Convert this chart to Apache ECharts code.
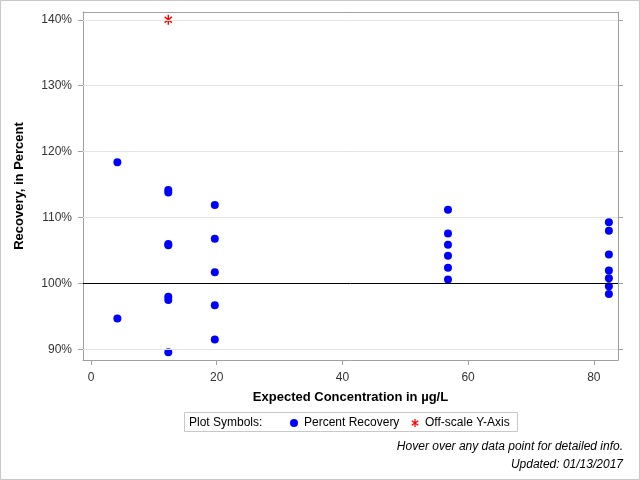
<!DOCTYPE html>
<html>
<head>
<meta charset="utf-8">
<script src="https://cdn.jsdelivr.net/npm/echarts@6/dist/echarts.min.js"></script>
<style>
html,body{margin:0;padding:0;background:#fff}
#wrap{position:relative;width:640px;height:480px}
#c{width:640px;height:480px}
#frame{position:absolute;left:0;top:0;width:640px;height:480px;box-sizing:border-box;border:1px solid #c8c8c8;pointer-events:none}
</style>
</head>
<body>
<div id="wrap"><div id="c"></div><div id="frame"></div></div>
<script>
// ---- data ----
var recoveryX = [4.2, 4.2,
  12.3, 12.3, 12.3, 12.3, 12.3, 12.3, 12.3,
  19.7, 19.7, 19.7, 19.7, 19.7,
  56.8, 56.8, 56.8, 56.8, 56.8, 56.8,
  82.4, 82.4, 82.4, 82.4, 82.4, 82.4, 82.4];
var recoveryY = [118.4, 94.7,
  114.2, 113.8, 106.0, 105.8, 98.0, 97.5, 89.6,
  111.9, 106.8, 101.7, 96.7, 91.5,
  111.2, 107.6, 105.9, 104.2, 102.4, 100.6,
  109.3, 108.0, 104.4, 102.0, 100.8, 99.6, 98.4];
var offscaleX = [12.3];
var offscaleY = [140];
var xTicks = [0, 20, 40, 60, 80];
var yTicks = [90, 100, 110, 120, 130, 140];
var referenceLevel = 100;

// ---- build ----
function asteriskPath() {
  var angles = [90, 35, -35], L = 5, w = 0.8, parts = [];
  angles.forEach(function (a) {
    var r = a * Math.PI / 180, dx = Math.cos(r), dy = -Math.sin(r), px = -dy, py = dx;
    var pts = [
      [L * dx + w * px, L * dy + w * py],
      [-L * dx + w * px, -L * dy + w * py],
      [-L * dx - w * px, -L * dy - w * py],
      [L * dx - w * px, L * dy - w * py]
    ];
    parts.push('M' + pts.map(function (p) { return p[0].toFixed(2) + ' ' + p[1].toFixed(2); }).join(' L') + ' Z');
  });
  return 'path://' + parts.join(' ');
}
var ast = asteriskPath();

var recData = recoveryX.map(function (x, i) { return [x, recoveryY[i]]; });
var offData = offscaleX.map(function (x, i) { return [x, offscaleY[i]]; });

var font = 'Liberation Sans, Arial, sans-serif';
var axisGray = '#a0a0a0';

var chart = echarts.init(document.getElementById('c'), null, {renderer: 'canvas'});
chart.setOption({
  animation: false,
  textStyle: {fontFamily: font},
  grid: {left: 83, right: 22, top: 12, bottom: 120, show: false},
  xAxis: [{
    type: 'value', min: -1.27, max: 83.85, position: 'bottom',
    name: 'Expected Concentration in µg/L', nameLocation: 'middle', nameGap: 31,
    nameTextStyle: {fontFamily: font, fontSize: 13, fontWeight: 'bold', color: '#000'},
    axisLine: {show: true, onZero: false, lineStyle: {color: axisGray}},
    axisTick: {show: true, length: 5, inside: false, customValues: xTicks, lineStyle: {color: axisGray}},
    axisLabel: {show: true, customValues: xTicks, margin: 12, fontFamily: font, fontSize: 12, color: '#333'},
    splitLine: {show: false}
  }, {
    type: 'value', min: -1.27, max: 83.85, position: 'top',
    axisLine: {show: true, onZero: false, lineStyle: {color: axisGray}},
    axisTick: {show: false}, axisLabel: {show: false}, splitLine: {show: false}
  }],
  yAxis: [{
    type: 'value', min: 88.41, max: 141.18, position: 'left',
    name: 'Recovery, in Percent', nameLocation: 'middle', nameGap: 57,
    nameTextStyle: {fontFamily: font, fontSize: 13, fontWeight: 'bold', color: '#000'},
    axisLine: {show: true, onZero: false, lineStyle: {color: axisGray}},
    axisTick: {show: true, length: 5, customValues: yTicks, lineStyle: {color: axisGray}},
    axisLabel: {show: true, customValues: yTicks, margin: 11, fontFamily: font, fontSize: 12, color: '#333', formatter: '{value}%'},
    splitLine: {show: false}
  }, {
    type: 'value', min: 88.41, max: 141.18, position: 'right',
    axisLine: {show: true, onZero: false, lineStyle: {color: axisGray}},
    axisTick: {show: true, length: 5, customValues: yTicks, lineStyle: {color: axisGray}},
    axisLabel: {show: false},
    splitLine: {show: false}
  }],
  legend: {
    left: 290, top: 417, itemWidth: 10, itemHeight: 8, itemGap: 12, padding: 0,
    textStyle: {fontFamily: font, fontSize: 12, color: '#000'},
    data: [{name: 'Percent Recovery', icon: 'circle'}, {name: 'Off-scale Y-Axis', icon: ast}],
    selectedMode: false
  },
  series: [{
    type: 'scatter', name: 'grid', data: [], silent: true, z: 1,
    markLine: {
      silent: true, symbol: 'none', animation: false, label: {show: false},
      data: yTicks.map(function (v) { return {yAxis: v, lineStyle: {color: '#e4e4e4', width: 1, type: 'solid'}}; })
        .concat([{yAxis: referenceLevel, lineStyle: {color: '#000', width: 1, type: 'solid'}}])
    }
  }, {
    type: 'scatter', name: 'Percent Recovery', data: recData, symbol: 'circle', symbolSize: 8, z: 3,
    itemStyle: {color: '#0000ff', opacity: 1}
  }, {
    type: 'scatter', name: 'Off-scale Y-Axis', data: offData, symbol: ast, symbolSize: [9, 10], symbolKeepAspect: true, z: 3,
    itemStyle: {color: '#ff0000', opacity: 1}
  }],
  graphic: [
    {type: 'rect', shape: {x: 184.5, y: 412.5, width: 333, height: 19}, style: {fill: 'none', stroke: '#c8c8c8', lineWidth: 1}, silent: true},
    {type: 'text', x: 189, y: 423, style: {text: 'Plot Symbols:', font: '12px ' + font, fill: '#000', textVerticalAlign: 'middle'}, silent: true},
    {type: 'text', x: 623, y: 447, style: {text: 'Hover over any data point for detailed info.', font: 'italic 12px ' + font, fill: '#000', textAlign: 'right', textVerticalAlign: 'middle'}, silent: true},
    {type: 'text', x: 623, y: 465, style: {text: 'Updated: 01/13/2017', font: 'italic 12px ' + font, fill: '#000', textAlign: 'right', textVerticalAlign: 'middle'}, silent: true}
  ]
});
</script>
</body>
</html>
